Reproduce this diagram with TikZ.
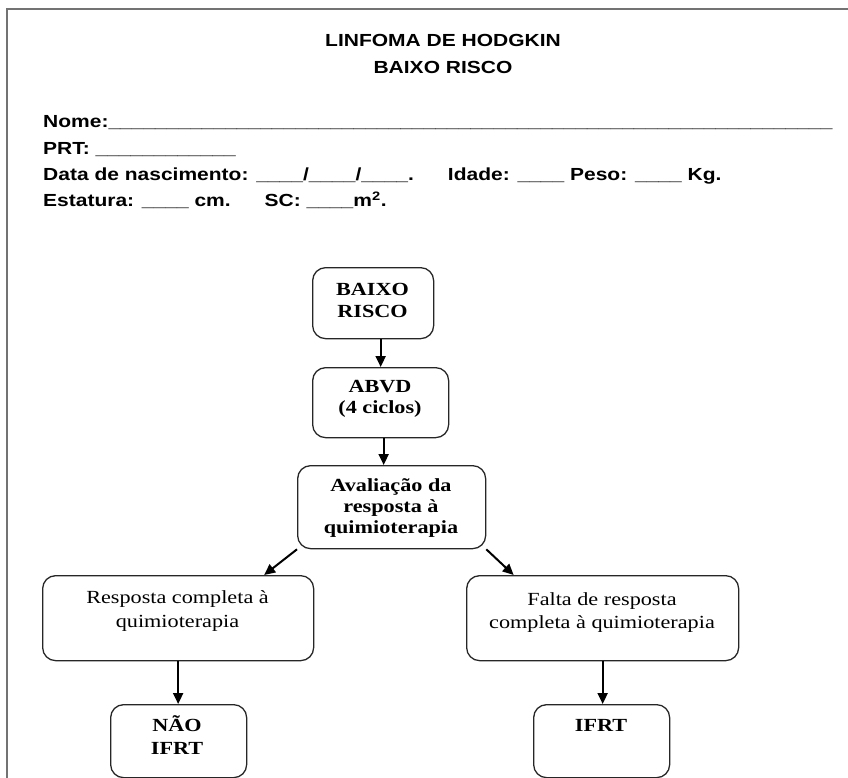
\documentclass[tikz,border=0pt]{standalone}
\usepackage{fontspec}
\setmainfont[FakeStretch=1.2]{Liberation Serif}
\newfontfamily\hdfont[FakeStretch=1.2]{Liberation Sans}
\usetikzlibrary{arrows.meta}
\tikzset{
  hdr/.style={font=\hdfont\bfseries\fontsize{17.5}{21}\selectfont, inner sep=0pt, anchor=base west},
  ttl/.style={font=\hdfont\bfseries\fontsize{17.5}{21}\selectfont, inner sep=0pt, anchor=base},
  fbox/.style={draw=black!85, line width=1.3pt, rounded corners=13pt, inner sep=0pt, anchor=north west},
  ftxt/.style={inner sep=0pt, align=center, anchor=base},
  arr/.style={-{Triangle[length=11pt,width=10pt]}, line width=2pt},
  frame/.style={draw=black!55, line width=1.5pt}
}
\begin{document}
\begin{tikzpicture}[x=1pt,y=-1pt]
\useasboundingbox (0,0) rectangle (848,778);
\coordinate (fbl) at (7,778);
\coordinate (ftl) at (7,9);
\coordinate (ftr) at (848,9);
\draw[frame] (fbl) -- (ftl) -- (ftr);

\node[ttl] (t1) at (443,47) {LINFOMA DE HODGKIN};
\node[ttl] (t2) at (443,74) {BAIXO RISCO};

\node[hdr] (h1) at (43,127.3) {Nome:\_\_\_\_\_\_\_\_\_\_\_\_\_\_\_\_\_\_\_\_\_\_\_\_\_\_\_\_\_\_\_\_\_\_\_\_\_\_\_\_\_\_\_\_\_\_\_\_\_\_\_\_\_\_\_\_\_\_\_\_\_\_};
\node[hdr] (h2) at (43,155) {PRT: \_\_\_\_\_\_\_\_\_\_\_\_};
\node[hdr] (h3) at (43,181) {Data de nascimento: \_\_\_\_/\_\_\_\_/\_\_\_\_.\hspace{34pt}Idade: \_\_\_\_ Peso: \_\_\_\_ Kg.};
\node[hdr] (h4) at (43,207) {Estatura: \_\_\_\_ cm.\hspace{34pt}SC: \_\_\_\_m\textsuperscript{2}.};

\node[fbox, minimum width=121pt, minimum height=71pt] (b1) at (312,267) {};
\node[fbox, minimum width=136pt, minimum height=70pt] (b2) at (312,367) {};
\node[fbox, minimum width=188pt, minimum height=83pt] (b3) at (297,465) {};
\node[fbox, minimum width=271pt, minimum height=85pt] (b4) at (42,575) {};
\node[fbox, minimum width=272pt, minimum height=85pt] (b5) at (466,575) {};
\node[fbox, minimum width=136pt, minimum height=73pt] (b6) at (110,704) {};
\node[fbox, minimum width=136pt, minimum height=73pt] (b7) at (533,704) {};

\node[ftxt, font=\bfseries\fontsize{18.5}{22}\selectfont] (x1) at (372.5,317) {BAIXO\\RISCO};
\node[ftxt, font=\bfseries\fontsize{18.5}{21.5}\selectfont] (x2) at (380,413.5) {ABVD\\(4 ciclos)};
\node[ftxt, font=\bfseries\fontsize{18.5}{21}\selectfont] (x3) at (391,533) {Avaliação da\\resposta à\\quimioterapia};
\node[ftxt, font=\fontsize{18.5}{24}\selectfont] (x4) at (177.5,627) {Resposta completa à\\quimioterapia};
\node[ftxt, font=\fontsize{18.5}{23}\selectfont] (x5) at (602,628) {Falta de resposta\\completa à quimioterapia};
\node[ftxt, font=\bfseries\fontsize{18.5}{23}\selectfont] (x6) at (177,754) {NÃO\\IFRT};
\node[ftxt, font=\bfseries\fontsize{18.5}{23}\selectfont] (x7) at (601,731) {IFRT};

\draw[arr] (b1.south -| b2.north) -- (b2.north);
\draw[arr] ([xshift=3pt]b2.south) -- ([xshift=3pt]b2.south |- b3.north);
\draw[arr] (b3.south west) -- ([xshift=86pt]b4.north);
\draw[arr] (b3.south east) -- ([xshift=-89pt]b5.north);
\draw[arr] (b4.south) -- (b4.south |- b6.north);
\draw[arr] (b5.south) -- (b5.south |- b7.north);
\end{tikzpicture}
\end{document}
